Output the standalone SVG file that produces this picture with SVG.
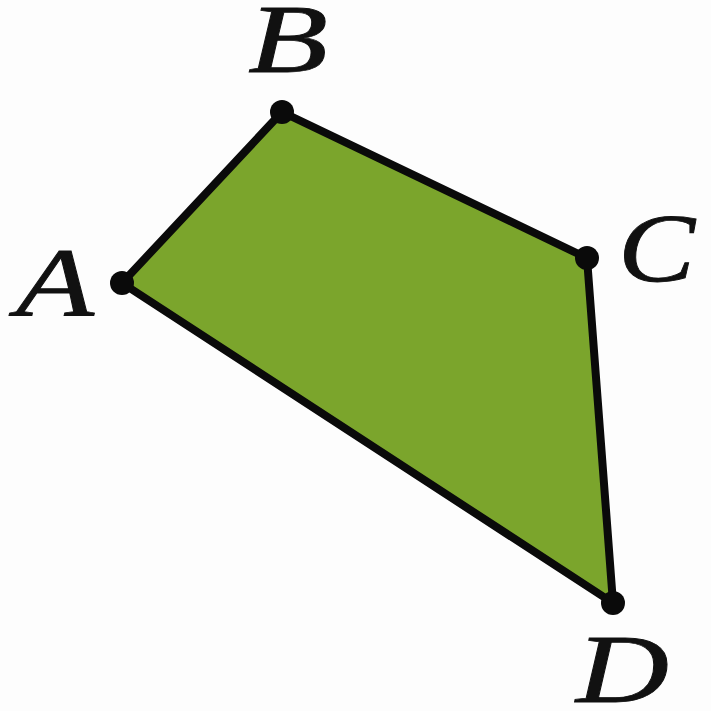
<svg xmlns="http://www.w3.org/2000/svg" width="711" height="711" viewBox="0 0 711 711">
<style>
.lbl{font-family:"Liberation Serif","Times New Roman",serif;font-style:italic;font-size:97px;fill:#111;stroke:#111;stroke-width:0.8}
.dot{fill:#0a0a0a}
</style>
<rect width="711" height="711" fill="#fdfdfd"/>
<g id="connectors">
<polygon points="122,283 282,112 587,258 613,603" fill="#7ba52c" stroke="#0a0a0a" stroke-width="8" stroke-linejoin="round"/>
</g>
<g id="A"><circle class="dot" cx="122" cy="283" r="12"/><text class="lbl" x="16" y="315" textLength="78" lengthAdjust="spacingAndGlyphs">A</text></g>
<g id="B"><circle class="dot" cx="282" cy="112" r="12"/><text class="lbl" x="248" y="72" textLength="80" lengthAdjust="spacingAndGlyphs">B</text></g>
<g id="C"><circle class="dot" cx="587" cy="258" r="12"/><text class="lbl" x="618" y="281" textLength="77" lengthAdjust="spacingAndGlyphs">C</text></g>
<g id="D"><circle class="dot" cx="613" cy="603" r="12"/><text class="lbl" x="576" y="702" textLength="93" lengthAdjust="spacingAndGlyphs">D</text></g>
</svg>
